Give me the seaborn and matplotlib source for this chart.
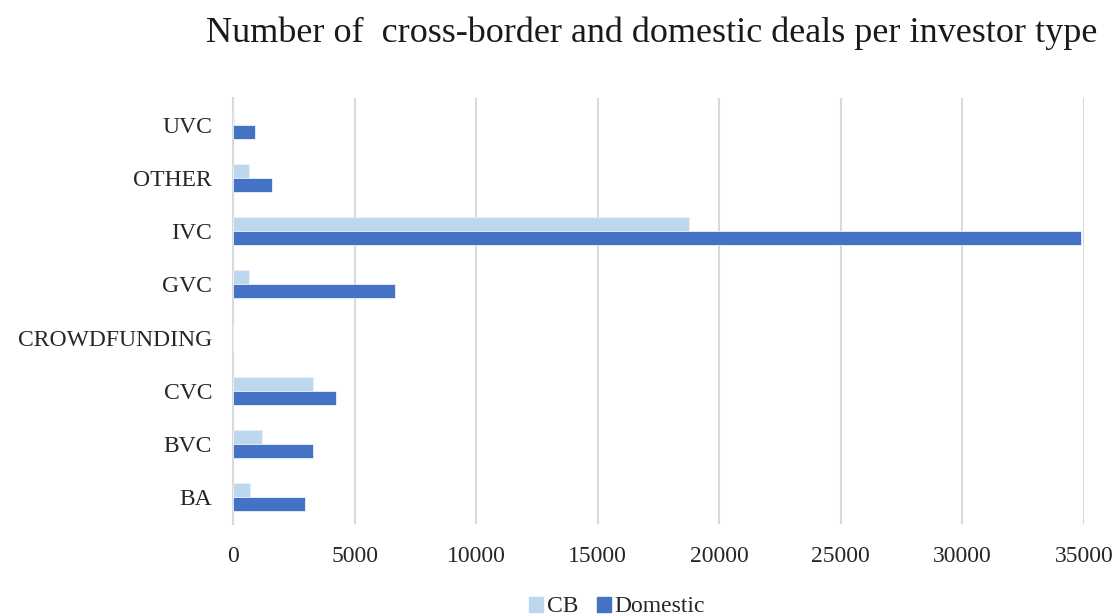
import matplotlib
matplotlib.use("Agg")
import matplotlib.pyplot as plt
import seaborn as sns
import pandas as pd

categories = ["UVC", "OTHER", "IVC", "GVC", "CROWDFUNDING", "CVC", "BVC", "BA"]
cb_deals = [50, 650, 18750, 650, 0, 3300, 1180, 690]
domestic_deals = [900, 1590, 34870, 6680, 0, 4230, 3290, 2950]
series = ["CB", "Domestic"]
x_ticks = [0, 5000, 10000, 15000, 20000, 25000, 30000, 35000]

df = pd.DataFrame({
    "type": categories * 2,
    "series": [series[0]] * len(categories) + [series[1]] * len(categories),
    "deals": cb_deals + domestic_deals,
})

sns.set_style("white")
plt.rcParams["font.family"] = ["Liberation Serif", "DejaVu Serif"]

fig = plt.figure(figsize=(11.15, 6.16), dpi=100)
ax = fig.add_axes([233 / 1115, 1 - 524 / 616, (1084 - 233) / 1115, (524 - 98) / 616])

palette = {"CB": "#BDD7EE", "Domestic": "#4472C4"}
sns.barplot(data=df, y="type", x="deals", hue="series", order=categories,
            hue_order=series, palette=palette, saturation=1, orient="h", width=0.53,
            edgecolor="#EAF1FA", linewidth=0.6, ax=ax, zorder=3)

ax.set_xlim(0, 35000)
ax.set_xticks(x_ticks)
ax.set_xticklabels([str(t) for t in x_ticks], fontsize=17, color="#262626")
ax.tick_params(axis="y", labelsize=17, labelcolor="#262626", length=0, pad=15)
ax.tick_params(axis="x", length=0, pad=16)
ax.set_xlabel("")
ax.set_ylabel("")
ax.grid(axis="x", color="#D9D9D9", linewidth=1.5, zorder=0)
ax.grid(axis="y", visible=False)
for side in ["top", "right", "bottom"]:
    ax.spines[side].set_visible(False)
ax.spines["left"].set_color("#D9D9D9")
ax.spines["left"].set_linewidth(1.5)

ax.get_legend().remove()
handles = [plt.Rectangle((0, 0), 1, 1, color=palette[s]) for s in series]
fig.legend(handles, series, loc="center", bbox_to_anchor=(617 / 1115, 1 - 607 / 616),
           ncol=2, frameon=False, fontsize=17, handlelength=0.6, handleheight=0.6,
           handletextpad=0.15, columnspacing=0.8, labelcolor="#262626")

fig.text(652 / 1115, 1 - 33 / 616, "Number of  cross-border and domestic deals per investor type",
         ha="center", va="center", fontsize=26, color="#1a1a1a")

fig.savefig("out.png", dpi=100)
